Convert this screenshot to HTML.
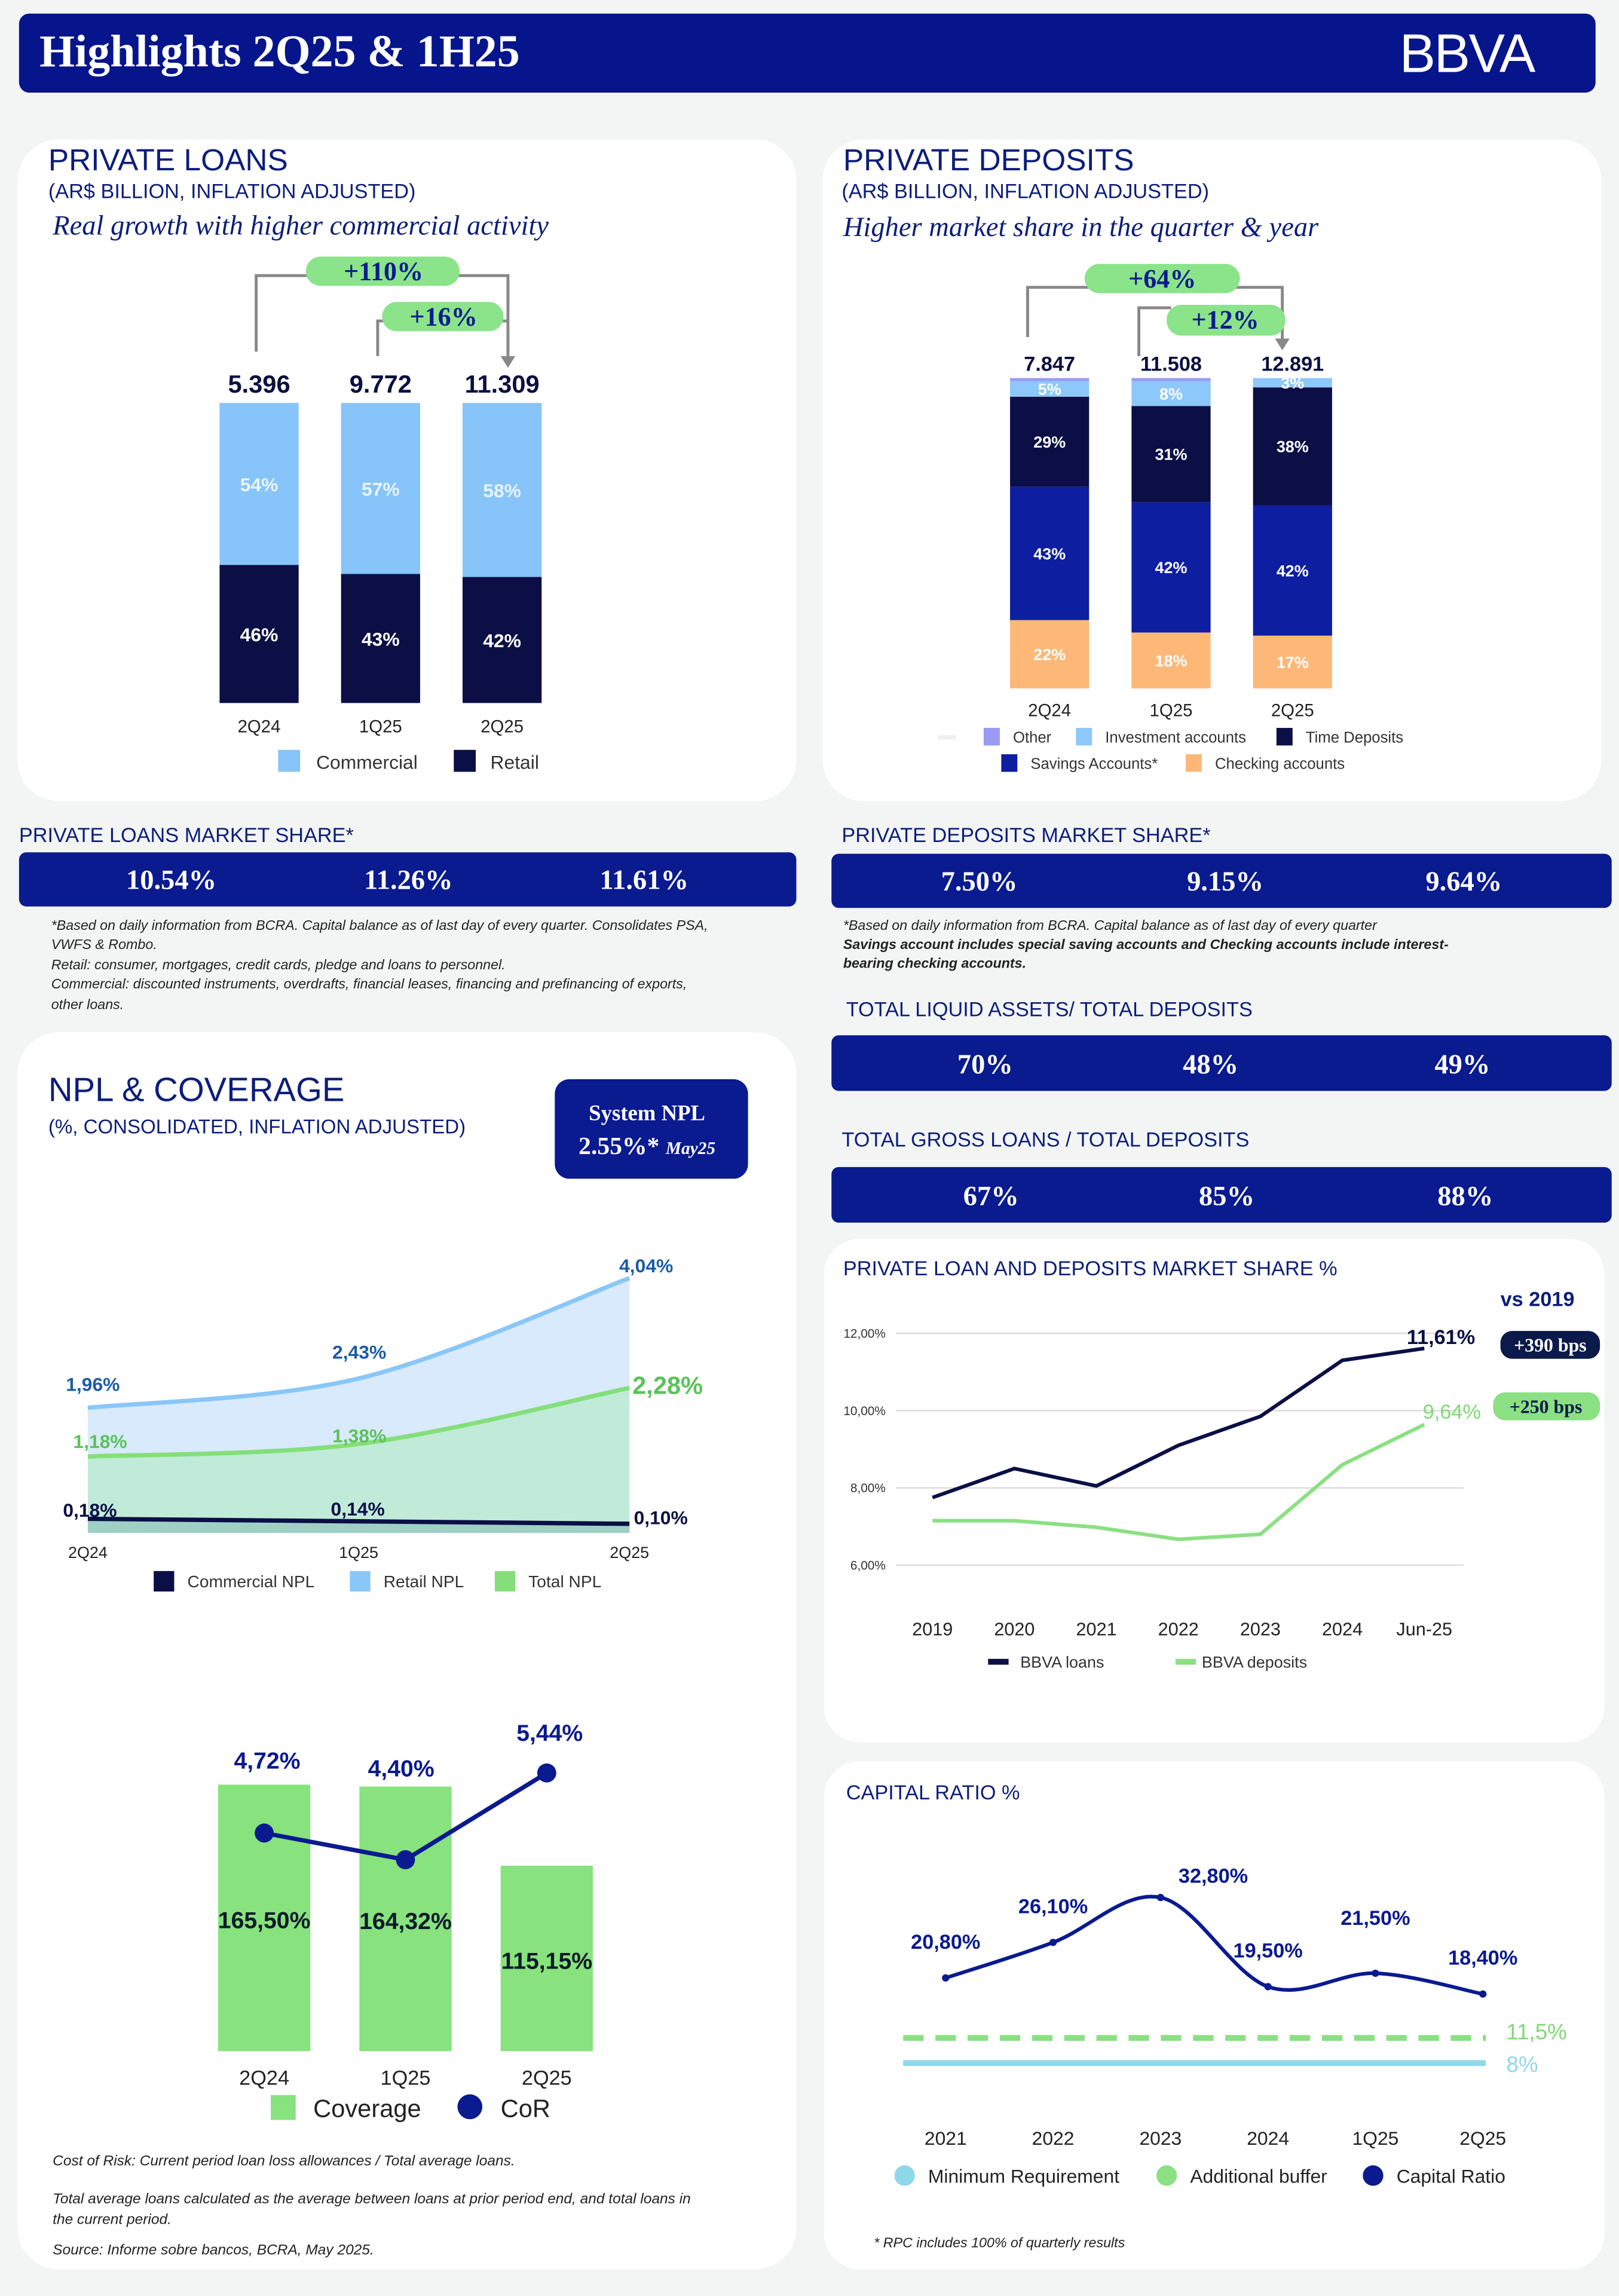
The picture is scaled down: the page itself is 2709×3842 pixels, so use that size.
<!DOCTYPE html>
<html><head><meta charset="utf-8"><style>
html,body{margin:0;padding:0;background:#f3f5f4;}
svg{display:block;}
text{font-family:"Liberation Sans",sans-serif;}
.serif,.serif text,text.serif{font-family:"Liberation Serif",serif;}
</style></head><body>
<svg id="root" width="2709" height="3842" viewBox="0 0 1106 1568" xmlns="http://www.w3.org/2000/svg">
<rect width="1106" height="1568" fill="#f3f5f4"/>
<g>
<rect x="13" y="9" width="1077" height="54" rx="7" fill="#07158c"/>
<text x="27" y="45" class="serif" font-size="31" font-weight="bold" fill="#fff">Highlights 2Q25 &amp; 1H25</text>
<text x="956" y="49" font-size="37" fill="#fff" letter-spacing="-1">BBVA</text>
</g>
<rect x="12" y="95" width="532" height="452" rx="28" fill="#fff"/>
<rect x="562" y="95" width="532" height="452" rx="28" fill="#fff"/>
<rect x="12" y="705" width="532" height="845" rx="28" fill="#fff"/>
<rect x="563" y="846" width="533" height="344" rx="24" fill="#fff"/>
<rect x="563" y="1203" width="533" height="347" rx="24" fill="#fff"/>

<text x="33" y="116" font-size="21" fill="#0c1e7a">PRIVATE LOANS</text>
<text x="33" y="135" font-size="14" fill="#0c1e7a">(AR$ BILLION, INFLATION ADJUSTED)</text>
<text x="36" y="160" class="serif" font-style="italic" font-size="19" fill="#0c1e7a">Real growth with higher commercial activity</text>
<g id="loans"></g>

<text x="576" y="116" font-size="21" fill="#0c1e7a">PRIVATE DEPOSITS</text>
<text x="575" y="135" font-size="14" fill="#0c1e7a">(AR$ BILLION, INFLATION ADJUSTED)</text>
<text x="576" y="161" class="serif" font-style="italic" font-size="19" fill="#0c1e7a">Higher market share in the quarter &amp;  year</text>
<g id="deps"></g>

<text x="13" y="575" font-size="14" fill="#0c1e7a">PRIVATE LOANS MARKET SHARE*</text>
<rect x="13" y="582" width="531" height="37" rx="5" fill="#0a1a8f"/>
<g class="serif" font-size="19" font-weight="bold" fill="#fff" text-anchor="middle">
<text x="117" y="607">10.54%</text>
<text x="279" y="607">11.26%</text>
<text x="440" y="607">11.61%</text>
</g>
<g font-size="9.5" font-style="italic" fill="#222">
<text x="35" y="635">*Based on daily information from BCRA. Capital balance as of last day of every quarter. Consolidates PSA,</text>
<text x="35" y="648">VWFS &amp; Rombo.</text>
<text x="35" y="662">Retail: consumer, mortgages, credit cards, pledge and loans to personnel.</text>
<text x="35" y="675">Commercial: discounted instruments, overdrafts, financial leases, financing and prefinancing of exports,</text>
<text x="35" y="689">other loans.</text>
</g>

<text x="575" y="575" font-size="14" fill="#0c1e7a">PRIVATE DEPOSITS  MARKET SHARE*</text>
<rect x="568" y="583" width="533" height="37" rx="5" fill="#0a1a8f"/>
<g class="serif" font-size="19" font-weight="bold" fill="#fff" text-anchor="middle">
<text x="669" y="608">7.50%</text>
<text x="837" y="608">9.15%</text>
<text x="1000" y="608">9.64%</text>
</g>
<g font-size="9.5" font-style="italic" fill="#222">
<text x="576" y="635">*Based on daily information from BCRA. Capital balance as of last day of every quarter</text>
<text x="576" y="648" font-weight="bold">Savings account includes special saving accounts and Checking accounts include interest-</text>
<text x="576" y="661" font-weight="bold">bearing checking accounts.</text>
</g>

<text x="578" y="694" font-size="14" fill="#0c1e7a">TOTAL LIQUID ASSETS/ TOTAL DEPOSITS</text>
<rect x="568" y="707" width="533" height="38" rx="5" fill="#0a1a8f"/>
<g class="serif" font-size="19" font-weight="bold" fill="#fff" text-anchor="middle">
<text x="673" y="733">70%</text>
<text x="827" y="733">48%</text>
<text x="999" y="733">49%</text>
</g>
<text x="575" y="783" font-size="14" fill="#0c1e7a">TOTAL GROSS LOANS / TOTAL DEPOSITS</text>
<rect x="568" y="797" width="533" height="38" rx="5" fill="#0a1a8f"/>
<g class="serif" font-size="19" font-weight="bold" fill="#fff" text-anchor="middle">
<text x="677" y="823">67%</text>
<text x="838" y="823">85%</text>
<text x="1001" y="823">88%</text>
</g>

<text x="33" y="752" font-size="23" fill="#0c1e7a">NPL &amp; COVERAGE</text>
<text x="33" y="774" font-size="13.5" fill="#0c1e7a">(%, CONSOLIDATED, INFLATION ADJUSTED)</text>
<rect x="379" y="737" width="132" height="68" rx="10" fill="#0a1a8f"/>
<text x="442" y="765" class="serif" font-size="15" font-weight="bold" fill="#fff" text-anchor="middle">System NPL</text>
<text x="442" y="788" class="serif" font-size="17" font-weight="bold" fill="#fff" text-anchor="middle">2.55%* <tspan font-size="12" font-style="italic">May25</tspan></text>
<g id="npl"></g>
<g id="cov"></g>
<g font-size="10" font-style="italic" fill="#222">
<text x="36" y="1479">Cost of Risk: Current period loan loss allowances / Total average loans.</text>
<text x="36" y="1505">Total average loans calculated as the average between loans at prior period end, and total loans in</text>
<text x="36" y="1519">the current period.</text>
<text x="36" y="1540">Source: Informe sobre bancos, BCRA,  May 2025.</text>
</g>

<text x="576" y="871" font-size="14" fill="#0c1e7a">PRIVATE LOAN AND DEPOSITS MARKET SHARE  %</text>
<text x="1025" y="892" font-size="14" font-weight="bold" fill="#0c1e7a">vs 2019</text>
<g id="ms"></g>

<text x="578" y="1229" font-size="14" fill="#0c1e7a">CAPITAL RATIO %</text>
<g id="cap"></g>
<text x="597" y="1535" font-size="9.5" font-style="italic" fill="#222">* RPC includes 100% of quarterly results</text>
</svg>
<script>
const NS="http://www.w3.org/2000/svg";
const loanCats=["2Q24","1Q25","2Q25"];
const loanTotals=["5.396","9.772","11.309"];
const loanCommercial=[54,57,58];
const loanRetail=[46,43,42];
const depCats=["2Q24","1Q25","2Q25"];
const depTotals=["7.847","11.508","12.891"];
const depChecking=[22,18,17];
const depSavings=[43,42,42];
const depTime=[29,31,38];
const depInvest=[5,8,3];
const depOther=[1,1,0];
const nplCats=["2Q24","1Q25","2Q25"];
const nplRetail=[1.96,2.43,4.04];
const nplTotal=[1.18,1.38,2.28];
const nplCommercial=[0.18,0.14,0.10];
const covValues=[165.50,164.32,115.15];
const corValues=[4.72,4.40,5.44];
const msYears=["2019","2020","2021","2022","2023","2024","Jun-25"];
const msLoans=[7.75,8.5,8.05,9.1,9.85,11.3,11.61];
const msDeposits=[7.15,7.15,6.98,6.67,6.8,8.6,9.64];
const msTicks=[6,8,10,12];
const capCats=["2021","2022","2023","2024","1Q25","2Q25"];
const capRatio=[20.8,26.1,32.8,19.5,21.5,18.4];
const capBuffer=11.5;
const capMin=8;

function el(tag,attrs,parent,txt){const e=document.createElementNS(NS,tag);for(const k in attrs)e.setAttribute(k,attrs[k]);if(txt!==undefined)e.textContent=txt;parent.appendChild(e);return e;}
function fmt(v){return v.toFixed(2).replace('.',',')+'%';}
function smooth(pts){let d=`M${pts[0][0]},${pts[0][1]}`;for(let i=0;i<pts.length-1;i++){const p0=pts[i-1]||pts[i],p1=pts[i],p2=pts[i+1],p3=pts[i+2]||p2;const c1=[p1[0]+(p2[0]-p0[0])/6,p1[1]+(p2[1]-p0[1])/6],c2=[p2[0]-(p3[0]-p1[0])/6,p2[1]-(p3[1]-p1[1])/6];d+=` C${c1[0]},${c1[1]} ${c2[0]},${c2[1]} ${p2[0]},${p2[1]}`;}return d;}

(function(){const g=document.getElementById('loans');const bx=i=>150+i*83,bw=54,top=275,bot=480,H=bot-top;
loanCats.forEach((c,i)=>{const x=bx(i);const tot=loanCommercial[i]+loanRetail[i];const hc=H*loanCommercial[i]/tot;
let r=el('rect',{x:x,y:top,width:bw,height:hc,fill:'#86c4f9'},g);
r=el('rect',{x:x,y:top+hc,width:bw,height:H-hc,fill:'#0b0f45'},g);
el('text',{x:x+bw/2,y:top+hc/2+5,'text-anchor':'middle','font-size':13,'font-weight':'bold',fill:'#eaf4ff'},g,loanCommercial[i]+'%');
el('text',{x:x+bw/2,y:top+hc+(H-hc)/2+5,'text-anchor':'middle','font-size':13,'font-weight':'bold',fill:'#fff'},g,loanRetail[i]+'%');
let t=el('text',{x:x+bw/2,y:top-7,'text-anchor':'middle','font-size':17,'font-weight':'bold',fill:'#0b1040'},g,loanTotals[i]);
el('text',{x:x+bw/2,y:500,'text-anchor':'middle','font-size':12,fill:'#222'},g,c);});
el('path',{d:'M175,240 V188 H347 V246',fill:'none',stroke:'#888','stroke-width':2},g);
el('path',{d:'M342,243 L347,251 L352,243 Z',fill:'#888'},g);
el('path',{d:'M258,243 V219 H347',fill:'none',stroke:'#888','stroke-width':2},g);
el('rect',{x:209,y:175,width:105,height:20,rx:10,fill:'#8be38a'},g);
el('text',{x:262,y:191,'text-anchor':'middle',class:'serif','font-size':18,'font-weight':'bold',fill:'#0a1a8f'},g,'+110%');
el('rect',{x:261,y:206,width:83,height:20,rx:10,fill:'#8be38a'},g);
el('text',{x:303,y:222,'text-anchor':'middle',class:'serif','font-size':18,'font-weight':'bold',fill:'#0a1a8f'},g,'+16%');
let l=el('rect',{x:190,y:512,width:15,height:15,fill:'#86c4f9'},g);
el('text',{x:216,y:525,'font-size':13,fill:'#333'},g,'Commercial');
l=el('rect',{x:310,y:512,width:15,height:15,fill:'#0b0f45'},g);
el('text',{x:335,y:525,'font-size':13,fill:'#333'},g,'Retail');})();

(function(){const g=document.getElementById('deps');const bx=i=>690+i*83,bw=54,top=258,bot=470,H=bot-top;
const series=[[depChecking,'#fdb878','checking','#fff'],[depSavings,'#0d1ea0','savings','#fff'],[depTime,'#0b0f45','time','#fff'],[depInvest,'#8dc8fa','investment','#fff'],[depOther,'#9a9af5','other','#fff']];
depCats.forEach((c,i)=>{const x=bx(i);let tot=0;series.forEach(s=>tot+=s[0][i]);let y=bot;
series.forEach(s=>{const h=H*s[0][i]/tot;y-=h;if(h<=0)return;const r=el('rect',{x:x,y:y,width:bw,height:h,fill:s[1]},g);
if(s[2]!=='other')el('text',{x:x+bw/2,y:y+h/2+4,'text-anchor':'middle','font-size':11,'font-weight':'bold',fill:s[3]},g,s[0][i]+'%');});
let t=el('text',{x:x+bw/2,y:top-5,'text-anchor':'middle','font-size':14,'font-weight':'bold',fill:'#0b1040'},g,depTotals[i]);
el('text',{x:x+bw/2,y:489,'text-anchor':'middle','font-size':12,fill:'#222'},g,c);});
el('path',{d:'M702,230 V196 H876 V234',fill:'none',stroke:'#888','stroke-width':2},g);
el('path',{d:'M871,231 L876,239 L881,231 Z',fill:'#888'},g);
el('path',{d:'M778,243 V210 H800',fill:'none',stroke:'#888','stroke-width':2},g);
el('rect',{x:741,y:180,width:106,height:20,rx:10,fill:'#8be38a'},g);
el('text',{x:794,y:196,'text-anchor':'middle',class:'serif','font-size':18,'font-weight':'bold',fill:'#0a1a8f'},g,'+64%');
el('rect',{x:797,y:208,width:81,height:21,rx:10,fill:'#8be38a'},g);
el('text',{x:837,y:224,'text-anchor':'middle',class:'serif','font-size':18,'font-weight':'bold',fill:'#0a1a8f'},g,'+12%');
const leg=[[672,497,'#9a9af5','Other'],[735,497,'#8dc8fa','Investment accounts'],[872,497,'#0b0f45','Time Deposits'],[684,515,'#0d1ea0','Savings Accounts*'],[810,515,'#fdb878','Checking accounts']];
el('rect',{x:641,y:502,width:12,height:3,fill:'#eee'},g);
leg.forEach(a=>{const r=el('rect',{x:a[0],y:a[1],width:11,height:12,fill:a[2]},g);el('text',{x:a[0]+20,y:a[1]+10,'font-size':10.5,fill:'#333'},g,a[3]);});})();

(function(){const g=document.getElementById('npl');const X=i=>60+i*185;const Y=v=>1045-v*42.6;const base=1047;
const pr=nplRetail.map((v,i)=>[X(i),Y(v)]),pt=nplTotal.map((v,i)=>[X(i),Y(v)]),pc=nplCommercial.map((v,i)=>[X(i),Y(v)]);
const area=(pts,fill,name)=>{const p=el('path',{d:smooth(pts)+` L${X(2)},${base} L${X(0)},${base} Z`,fill:fill},g);};
area(pr,'#d9eafc','area-retail-npl');area(pt,'#c1ebd9','area-total-npl');area(pc,'#9ed0c6','area-commercial-npl');
let p=el('path',{d:smooth(pr),fill:'none',stroke:'#88c7f8','stroke-width':3},g);
p=el('path',{d:smooth(pt),fill:'none',stroke:'#84df7a','stroke-width':3},g);
p=el('path',{d:smooth(pc),fill:'none',stroke:'#0b0f45','stroke-width':3},g);
const lab=(x,y,t,c,fs,anchor)=>el('text',{x:x,y:y,'font-size':fs,'font-weight':'bold',fill:c,'text-anchor':anchor||'start'},g,t);
lab(45,950,fmt(nplRetail[0]),'#1c5ba8',13);lab(227,928,fmt(nplRetail[1]),'#1c5ba8',13);lab(423,869,fmt(nplRetail[2]),'#1c5ba8',13);
lab(50,989,fmt(nplTotal[0]),'#5cc25a',13);lab(227,985,fmt(nplTotal[1]),'#5cc25a',13);lab(432,952,fmt(nplTotal[2]),'#5cc25a',17);
lab(43,1036,fmt(nplCommercial[0]),'#0b0f45',13);lab(226,1035,fmt(nplCommercial[1]),'#0b0f45',13);lab(433,1041,fmt(nplCommercial[2]),'#0b0f45',13);
nplCats.forEach((c,i)=>el('text',{x:X(i),y:1064,'text-anchor':'middle','font-size':11,fill:'#222'},g,c));
const leg=[[105,'#0b0f45','Commercial NPL'],[239,'#88c7f8','Retail NPL'],[338,'#84df7a','Total NPL']];
leg.forEach(a=>{const r=el('rect',{x:a[0],y:1073,width:14,height:14,fill:a[1]},g);el('text',{x:a[0]+23,y:1084,'font-size':11.5,fill:'#333'},g,a[2]);});})();

(function(){const g=document.getElementById('cov');const X=i=>180.5+i*96.5,bw=63,bot=1401;const Yb=v=>bot-v*1.1;const Yc=v=>1252-(v-4.72)*57;
covValues.forEach((v,i)=>{const r=el('rect',{x:X(i)-bw/2,y:Yb(v),width:bw,height:bot-Yb(v),fill:'#88e27e'},g);
el('text',{x:X(i),y:(Yb(v)+bot)/2+7,'text-anchor':'middle','font-size':16,'font-weight':'bold',fill:'#0b1a2a'},g,fmt(v));
el('text',{x:X(i),y:1424,'text-anchor':'middle','font-size':14,fill:'#222'},g,nplCats[i]);});
const pts=corValues.map((v,i)=>[X(i),Yc(v)]);
let pl=el('polyline',{points:pts.map(p=>p.join(',')).join(' '),fill:'none',stroke:'#0a1a8f','stroke-width':3},g);
pts.forEach((p,i)=>{const c=el('circle',{cx:p[0],cy:p[1],r:6.5,fill:'#0a1a8f'},g);
el('text',{x:p[0]+(i==1?-3:2),y:p[1]-(i==0?44:i==1?57:22),'text-anchor':'middle','font-size':16,'font-weight':'bold',fill:'#0a1a8f'},g,fmt(corValues[i]));});
let r=el('rect',{x:185,y:1431,width:17,height:17,fill:'#88e27e'},g);
el('text',{x:214,y:1446,'font-size':17,fill:'#222'},g,'Coverage');
let c=el('circle',{cx:321,cy:1439,r:8.5,fill:'#0a1a8f'},g);
el('text',{x:342,y:1446,'font-size':17,fill:'#222'},g,'CoR');})();

(function(){const g=document.getElementById('ms');const X=i=>637+i*56;const Y=v=>1069-(v-6)*26.4;
msTicks.forEach(t=>{el('line',{x1:612,x2:1000,y1:Y(t),y2:Y(t),stroke:'#dcdcdc','stroke-width':1},g);el('text',{x:605,y:Y(t)+3,'text-anchor':'end','font-size':8.5,fill:'#333'},g,t.toFixed(2).replace('.',',')+'%');});
msYears.forEach((y,i)=>el('text',{x:X(i),y:1117,'text-anchor':'middle','font-size':12.5,fill:'#222'},g,y));
let p=el('polyline',{points:msLoans.map((v,i)=>X(i)+','+Y(v)).join(' '),fill:'none',stroke:'#0b0f45','stroke-width':2.5},g);
p=el('polyline',{points:msDeposits.map((v,i)=>X(i)+','+Y(v)).join(' '),fill:'none',stroke:'#8ae082','stroke-width':2.5},g);
el('text',{x:961,y:918,'font-size':14,'font-weight':'bold',fill:'#0b0f45'},g,fmt(msLoans[6]));
el('text',{x:972,y:969,'font-size':14,fill:'#7fd874'},g,fmt(msDeposits[6]));
let r=el('rect',{x:1025,y:909,width:68,height:19,rx:8,fill:'#0b1a4a'},g);
el('text',{x:1059,y:923,'text-anchor':'middle',class:'serif','font-size':13,'font-weight':'bold',fill:'#fff'},g,'+390 bps');
r=el('rect',{x:1020,y:951,width:73,height:19,rx:8,fill:'#8ae082'},g);
el('text',{x:1056,y:965,'text-anchor':'middle',class:'serif','font-size':13,'font-weight':'bold',fill:'#0b1a4a'},g,'+250 bps');
el('rect',{x:675,y:1133,width:14,height:4,fill:'#0b0f45'},g);el('text',{x:697,y:1139,'font-size':11,fill:'#333'},g,'BBVA loans');
el('rect',{x:803,y:1133,width:14,height:4,fill:'#8ae082'},g);el('text',{x:821,y:1139,'font-size':11,fill:'#333'},g,'BBVA deposits');})();

(function(){const g=document.getElementById('cap');const X=i=>646+i*73.4;const Y=v=>1351-(v-20.8)*4.58;
const pts=capRatio.map((v,i)=>[X(i),Y(v)]);
let p=el('path',{d:smooth(pts),fill:'none',stroke:'#0a1a8f','stroke-width':2.5},g);
const off=[[0,-20],[0,-20],[36,-10],[0,-20],[0,-33],[0,-20]];
pts.forEach((q,i)=>{const c=el('circle',{cx:q[0],cy:q[1],r:2.5,fill:'#0a1a8f'},g);
el('text',{x:q[0]+off[i][0],y:q[1]+off[i][1],'text-anchor':'middle','font-size':14,'font-weight':'bold',fill:'#0a1a8f'},g,capRatio[i].toFixed(2).replace('.',',')+'%');
el('text',{x:q[0],y:1465,'text-anchor':'middle','font-size':13,fill:'#222'},g,capCats[i]);});
const Yl=v=>1392+(11.5-v)*4.9;
let l=el('line',{x1:617,x2:1015,y1:Yl(capBuffer),y2:Yl(capBuffer),stroke:'#8ae082','stroke-width':4,'stroke-dasharray':'14,8'},g);
l=el('line',{x1:617,x2:1015,y1:Yl(capMin),y2:Yl(capMin),stroke:'#8ed8ea','stroke-width':4},g);
el('text',{x:1029,y:Yl(capBuffer)+1,'font-size':15,fill:'#7fd874'},g,'11,5%');
el('text',{x:1029,y:Yl(capMin)+6,'font-size':15,fill:'#8ed8ea'},g,'8%');
const leg=[[618,'#8ed8ea','Minimum Requirement'],[797,'#8ae082','Additional buffer'],[938,'#0a1a8f','Capital Ratio']];
leg.forEach(a=>{const c=el('circle',{cx:a[0],cy:1486,r:7,fill:a[1]},g);el('text',{x:a[0]+16,y:1491,'font-size':13,fill:'#222'},g,a[2]);});})();
</script>
</body></html>
